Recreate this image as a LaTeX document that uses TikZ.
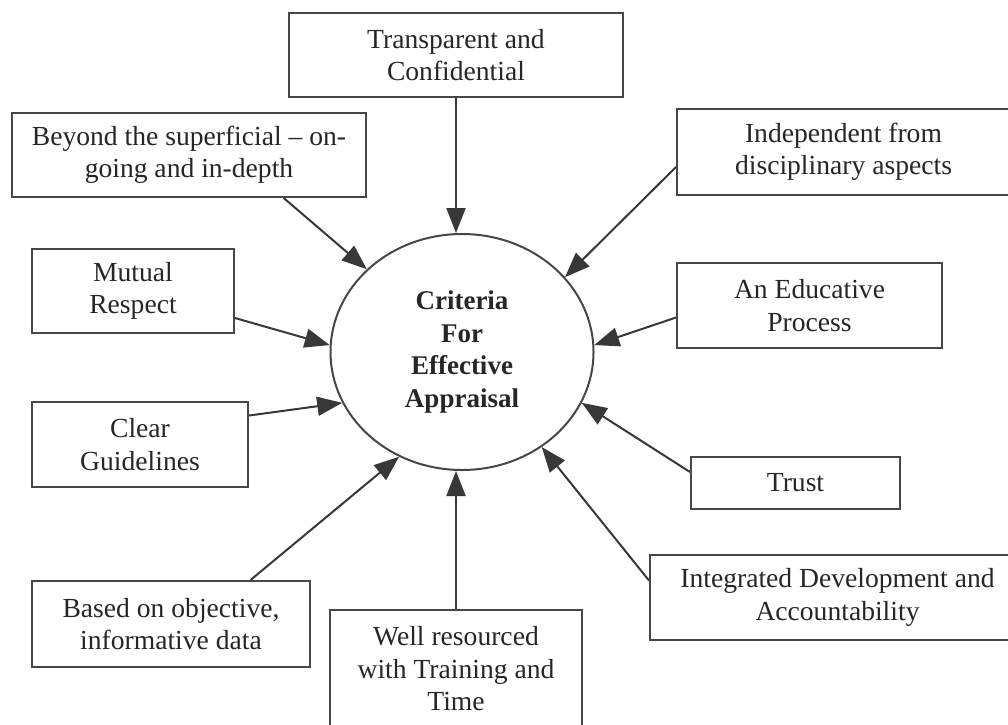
\documentclass[tikz,border=0pt]{standalone}
\usepackage{fontspec}
\setmainfont{Liberation Serif}
\usetikzlibrary{shapes.geometric,arrows.meta,calc}
\begin{document}
\begin{tikzpicture}[x=1pt,y=-1pt,
  box/.style={draw=black!72, line width=2pt, text=black!85, align=center, inner sep=0pt,
    font=\fontsize{27.6}{32.5}\selectfont},
  hub/.style={ellipse, draw=black!72, line width=2pt, text=black!85, align=center, inner sep=0pt,
    font=\fontsize{27}{32.7}\selectfont\bfseries},
  arr/.style={draw=black!78, line width=2pt, -{Triangle[length=25pt,width=19pt]}},
  ]
\clip (0,0) rectangle (1008,724);
\fill[white] (0,0) rectangle (1008,724);

\node[hub, minimum width=263pt, minimum height=236pt] (c) at (462,352) {Criteria\\For\\Effective\\Appraisal};

\node[box, minimum width=334pt, minimum height=84pt] (tra) at (456,55) {Transparent and\\Confidential};
\node[box, minimum width=354pt, minimum height=84pt] (bey) at (189,155) {Beyond the superficial -- on-\\going and in-depth};
\node[box, minimum width=333pt, minimum height=86pt] (ind) at (843.5,152) {Independent from\\disciplinary aspects};
\node[box, minimum width=202pt, minimum height=84pt] (mut) at (133,291) {Mutual\\Respect};
\node[box, minimum width=265pt, minimum height=85pt] (edu) at (809.5,305.5) {An Educative\\Process};
\node[box, minimum width=216pt, minimum height=85pt] (clr) at (140,444.5) {Clear\\Guidelines};
\node[box, minimum width=209pt, minimum height=52pt] (tru) at (795.5,483) {Trust};
\node[box, minimum width=375pt, minimum height=85pt] (int) at (837.5,597.5) {Integrated Development and\\Accountability};
\node[box, minimum width=278pt, minimum height=86pt] (bas) at (171,624) {Based on objective,\\informative data};
\node[box, minimum width=252pt, minimum height=118pt] (wel) at (456,669) {Well resourced\\with Training and\\Time};

\draw[arr] (tra.south) -- (tra.south |- c.north);
\draw[arr] (wel.north) -- (wel.north |- c.south);
\draw[arr] ($(bey.south west)!0.766!(bey.south east)$) -- (c.139);
\draw[arr] ([yshift=-15pt]ind.west) -- (c.36);
\draw[arr] ([yshift=-27pt]mut.east) -- (c.177);
\draw[arr] ([yshift=-12pt]edu.west) -- (c.3);
\draw[arr] ([yshift=29pt]clr.east) -- (c.203);
\draw[arr] ([yshift=11pt]tru.west) -- (c.337);
\draw[arr] ([yshift=17pt]int.west) -- (c.310);
\draw[arr] ($(bas.north west)!0.784!(bas.north east)$) -- (c.239);
\end{tikzpicture}
\end{document}
